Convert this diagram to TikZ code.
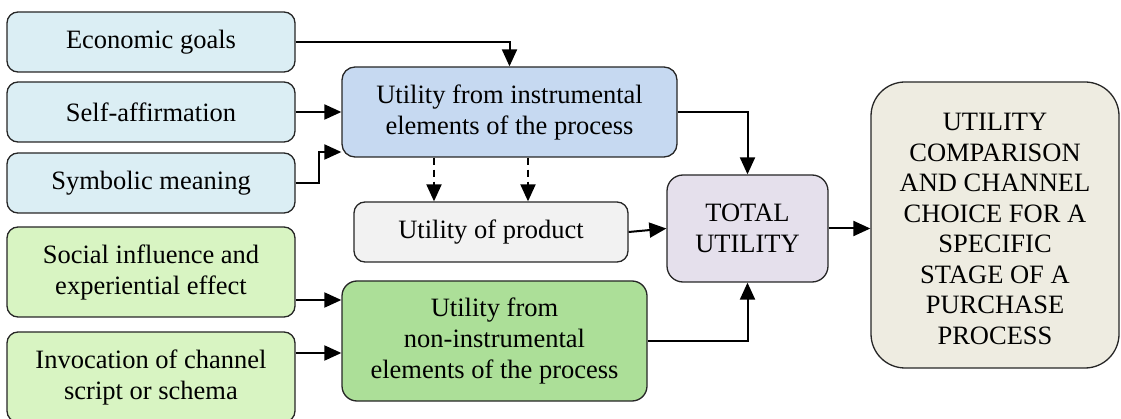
\documentclass[tikz,border=0pt]{standalone}
\usepackage{fontspec}
\setmainfont{Liberation Serif}
\usetikzlibrary{arrows.meta,calc}

\definecolor{goalblue}{RGB}{219,238,244}
\definecolor{instrblue}{RGB}{198,217,241}
\definecolor{prodgray}{RGB}{242,242,242}
\definecolor{socgreen}{RGB}{216,244,194}
\definecolor{nongreen}{RGB}{172,223,152}
\definecolor{totalviolet}{RGB}{229,224,236}
\definecolor{choicebeige}{RGB}{238,236,225}

\tikzset{
  box/.style={draw=black!85, line width=1.3pt, rounded corners=11pt,
    align=center, inner sep=0pt, text=black,
    font=\fontsize{26.5}{31}\selectfont},
  flow/.style={line width=2pt, -{Triangle[length=17pt,width=15pt]}},
  hint/.style={flow, dash pattern=on 7pt off 5pt}
}

\begin{document}
\begin{tikzpicture}[x=1pt, y=-1pt]
\useasboundingbox (0,0) rectangle (1121,419);

% input factors
\node[box, fill=goalblue, minimum width=288pt, minimum height=60pt] (eco) at (151,42) {Economic goals};
\node[box, fill=goalblue, minimum width=288pt, minimum height=60pt] (self) at (151,112) {Self-affirmation};
\node[box, fill=goalblue, minimum width=288pt, minimum height=60pt] (sym) at (151,183) {Symbolic meaning};
\node[box, fill=socgreen, minimum width=288pt, minimum height=90pt] (soc) at (151,272) {Social influence and\\experiential effect};
\node[box, fill=socgreen, minimum width=288pt, minimum height=90pt] (inv) at (151,377) {Invocation of channel\\script or schema};

% partial utilities
\node[box, fill=instrblue, rounded corners=13pt, minimum width=335pt, minimum height=90pt] (instr) at (509.5,112) {Utility from instrumental\\elements of the process};
\node[box, fill=prodgray, minimum width=274pt, minimum height=60pt] (prod) at (491,232) {Utility of product};
\node[box, fill=nongreen, rounded corners=15pt, minimum width=305pt, minimum height=120pt] (noni) at (494.5,341) {Utility from\\non-instrumental\\elements of the process};

% totals
\node[box, fill=totalviolet, rounded corners=16pt, minimum width=161pt, minimum height=107pt] (total) at (747.5,228.5) {TOTAL\\UTILITY};
\node[box, fill=choicebeige, rounded corners=34pt, minimum width=248pt, minimum height=286pt] (choice) at (995,225)
  {\raisebox{-4pt}[\height][\depth]{\parbox{240pt}{\centering\baselineskip=30.5pt UTILITY\\COMPARISON\\AND CHANNEL\\CHOICE FOR A\\SPECIFIC\\STAGE OF A\\PURCHASE\\PROCESS}}};

% connectors
\draw[flow] (eco.east) -| (instr.north);
\draw[flow] (self.east) -- (instr.west);
\draw[flow] (sym.east) -- ++(23,0) |- ([yshift=-40pt]instr.west);
\draw[flow] ([yshift=-28pt]soc.east) -- ([yshift=-28pt]soc.east -| noni.west);
\draw[flow] ([yshift=24pt]inv.east) -- ([yshift=24pt]inv.east -| noni.west);

\draw[hint] ([xshift=-75.5pt]instr.south) -- ([xshift=-75.5pt]instr.south |- prod.north);
\draw[hint] ([xshift=18.5pt]instr.south) -- ([xshift=18.5pt]instr.south |- prod.north);

\draw[flow] (instr.east) -| (total.north);
\draw[flow] (prod.east) -- (total.west);
\draw[flow] (noni.east) -| (total.south);
\draw[flow] (total.east) -- (total.east -| choice.west);
\end{tikzpicture}
\end{document}
